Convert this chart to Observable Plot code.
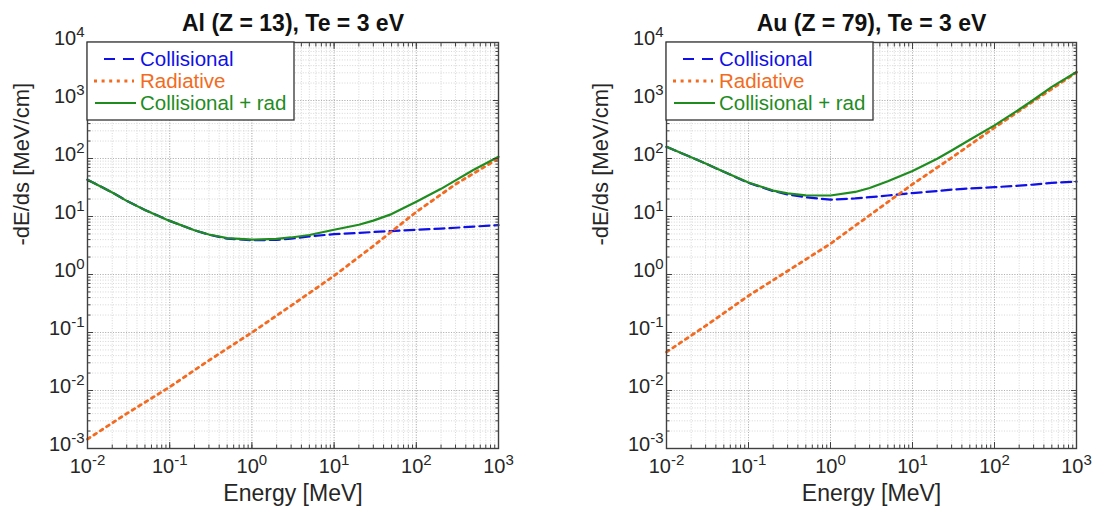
<!DOCTYPE html>
<html><head><meta charset="utf-8">
<script src="https://cdn.jsdelivr.net/npm/d3@7"></script>
<script src="https://cdn.jsdelivr.net/npm/@observablehq/plot@0.6"></script>
<style>
html,body{margin:0;padding:0;background:#fff;}
#wrap{display:flex;width:1094px;height:506px;}
#wrap > div{width:547px;height:506px;}
</style></head><body><div id="wrap"><div id="p0"></div><div id="p1"></div></div>
<script>
// ---- data ----
const energy = [0.01,0.02,0.03,0.05,0.1,0.2,0.3,0.5,1,2,3,5,10,20,30,50,100,200,300,500,1000];
const energyRad = [0.01,0.03,0.1,0.3,1,3,10,30,100,300,1000];

const alCollisional = [43,26,18.6,13,8.4,5.8,4.85,4.15,3.9,3.95,4.15,4.55,4.95,5.2,5.4,5.6,5.9,6.2,6.4,6.7,7.1];
const alRadiative   = [0.00145,0.004,0.0115,0.033,0.1,0.29,0.95,3.1,12,36,100];
const alTotal       = [43,26,18.6,13,8.4,5.8,4.9,4.25,4.0,4.1,4.35,4.8,5.9,7.2,8.5,11,18,30,42,64,107];

const auCollisional = [159,105,82,59,38,27.5,24,21.5,19.5,20.5,21.5,23,25.3,27.5,29,30.5,32,34,35.5,38,40];
const auRadiative   = [0.046,0.13,0.43,1.15,3.4,10.5,36,103,340,975,3050];
const auTotal       = [159,105,82,59,38.5,28,25,23.2,23,26.5,31,40.5,61,99,137,210,372,700,1030,1720,3100];

const seriesNames = ["Collisional","Radiative","Collisional + rad"];
const seriesColors = ["#1010e6","#f26b21","#1f8c1f"];
const panelTitles = ["Al (Z = 13), Te = 3 eV","Au (Z = 79), Te = 3 eV"];
const xTicks = [0.01,0.1,1,10,100,1000];
const xTickExps = ["-2","-1","0","1","2","3"];
const yTicks = [0.001,0.01,0.1,1,10,100,1000,10000];
const yTickExps = ["-3","-2","-1","0","1","2","3","4"];
const xLabel = "Energy [MeV]";
const yLabel = "-dE/ds [MeV/cm]";

const xExpMap = new Map(xTicks.map((t,i)=>[t,xTickExps[i]]));
const yExpMap = new Map(yTicks.map((t,i)=>[t,yTickExps[i]]));

const FONT = "'Liberation Sans', Arial, Helvetica, sans-serif";
const AX = "#404040";
const MINOR = 40; // tick count that makes the log scale emit 1..9 per decade
const DOTS = "3,4.6";

function panel(container, title, coll, rad, tot, mL, mR) {
  const collData = energy.map((e,i)=>({e, v: coll[i]}));
  const radData = energyRad.map((e,i)=>({e, v: rad[i]}));
  const totData = energy.map((e,i)=>({e, v: tot[i]}));
  const svg = Plot.plot({
    width: 547, height: 506,
    marginLeft: mL, marginRight: mR, marginTop: 42, marginBottom: 58,
    style: {fontFamily: FONT, fontSize: "20px", color: "#262626", background: "white"},
    x: {type: "log", domain: [1e-2, 1e3], label: null},
    y: {type: "log", domain: [1e-3, 1e4], label: null},
    marks: [
      Plot.gridX({ticks: MINOR, stroke: "#d2d2d2", strokeOpacity: 1, strokeDasharray: "1,1.6", strokeWidth: 0.9}),
      Plot.gridY({ticks: MINOR, stroke: "#d2d2d2", strokeOpacity: 1, strokeDasharray: "1,1.6", strokeWidth: 0.9}),
      Plot.gridX({ticks: xTicks, stroke: "#b0b0b0", strokeOpacity: 1, strokeDasharray: "1,1.6", strokeWidth: 1}),
      Plot.gridY({ticks: yTicks, stroke: "#b0b0b0", strokeOpacity: 1, strokeDasharray: "1,1.6", strokeWidth: 1}),
      Plot.line(collData, {x: "e", y: "v", stroke: seriesColors[0], strokeWidth: 2.2, strokeDasharray: "10,5"}),
      Plot.line(radData, {x: "e", y: "v", stroke: seriesColors[1], strokeWidth: 2.8, strokeDasharray: DOTS}),
      Plot.line(totData, {x: "e", y: "v", stroke: seriesColors[2], strokeWidth: 2.2}),
      Plot.frame({stroke: AX, strokeWidth: 1.4}),
      // inward major ticks
      Plot.axisX({anchor: "bottom", ticks: xTicks, tickSize: 6, dy: -6, fill: "none", stroke: AX, tickFormat: () => ""}),
      Plot.axisX({anchor: "top", ticks: xTicks, tickSize: 6, dy: 6, fill: "none", stroke: AX, tickFormat: () => ""}),
      Plot.axisY({anchor: "left", ticks: yTicks, tickSize: 6, dx: 6, fill: "none", stroke: AX, tickFormat: () => ""}),
      Plot.axisY({anchor: "right", ticks: yTicks, tickSize: 6, dx: -6, fill: "none", stroke: AX, tickFormat: () => ""}),
      // inward minor ticks
      Plot.axisX({anchor: "bottom", ticks: MINOR, tickSize: 3.5, dy: -3.5, fill: "none", stroke: AX, tickFormat: () => ""}),
      Plot.axisX({anchor: "top", ticks: MINOR, tickSize: 3.5, dy: 3.5, fill: "none", stroke: AX, tickFormat: () => ""}),
      Plot.axisY({anchor: "left", ticks: MINOR, tickSize: 3.5, dx: 3.5, fill: "none", stroke: AX, tickFormat: () => ""}),
      Plot.axisY({anchor: "right", ticks: MINOR, tickSize: 3.5, dx: -3.5, fill: "none", stroke: AX, tickFormat: () => ""}),
      // tick labels
      Plot.axisX({anchor: "bottom", ticks: xTicks, tickSize: 0, tickPadding: 10, fontSize: 20, fill: "#262626", tickFormat: d => xExpMap.get(d)}),
      Plot.axisY({anchor: "left", ticks: yTicks, tickSize: 0, tickPadding: 3, dy: -4, fontSize: 20, fill: "#262626", tickFormat: d => yExpMap.get(d)}),
      // title and axis labels
      Plot.text([title], {text: d => d, frameAnchor: "top", dy: -19, lineAnchor: "middle", fontWeight: "bold", fontSize: 23, fill: "#111"}),
      Plot.text([xLabel], {text: d => d, frameAnchor: "bottom", dy: 45, lineAnchor: "middle", fontSize: 23, fill: "#262626"}),
      Plot.text([yLabel], {text: d => d, frameAnchor: "left", dx: -66, rotate: -90, lineAnchor: "middle", fontSize: 22, fill: "#262626"})
    ]
  });

  // superscript exponents on tick labels
  svg.querySelectorAll("g[aria-label$='tick label'] text").forEach(t => {
    const e = t.textContent;
    if (!e) return;
    t.textContent = "";
    const s = d3.select(t);
    s.append("tspan").text("10");
    s.append("tspan").attr("dy", "-8").attr("font-size", "15").text(e);
  });

  // legend
  const g = d3.select(svg).append("g").attr("font-family", FONT).attr("font-size", 20.5);
  g.append("rect").attr("x", mL).attr("y", 42).attr("width", 207).attr("height", 78)
    .attr("fill", "white").attr("stroke", "#333").attr("stroke-width", 1.3);
  const rowsY = [59, 81, 103];
  const styles = [
    {x1: 17, x2: 47, w: 2.2, dash: "11,8"},
    {x1: 7, x2: 47, w: 2.8, dash: DOTS},
    {x1: 8, x2: 49, w: 2.2, dash: null}
  ];
  seriesNames.forEach((name, i) => {
    const st = styles[i];
    const ln = g.append("line").attr("x1", mL + st.x1).attr("x2", mL + st.x2)
      .attr("y1", rowsY[i]).attr("y2", rowsY[i])
      .attr("stroke", seriesColors[i]).attr("stroke-width", st.w);
    if (st.dash) ln.attr("stroke-dasharray", st.dash);
    g.append("text").attr("x", mL + 53).attr("y", rowsY[i]).attr("dy", "0.35em")
      .attr("text-anchor", "start").attr("fill", seriesColors[i]).text(name);
  });

  document.getElementById(container).appendChild(svg);
}

panel("p0", panelTitles[0], alCollisional, alRadiative, alTotal, 87, 49);
panel("p1", panelTitles[1], auCollisional, auRadiative, auTotal, 119, 18);
</script></body></html>
